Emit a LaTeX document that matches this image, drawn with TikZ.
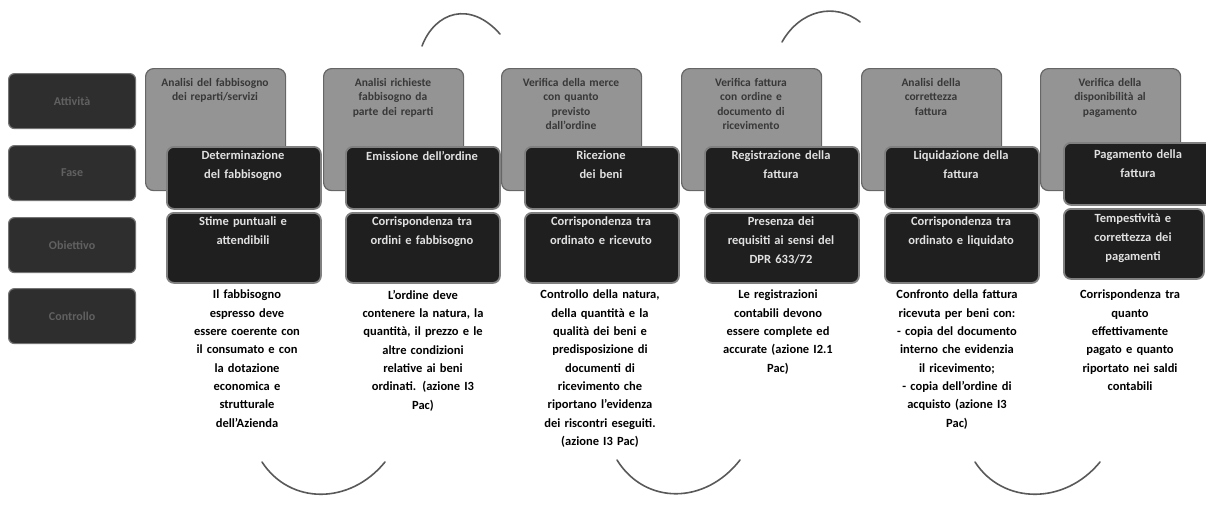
\documentclass[tikz,border=0pt]{standalone}
\usepackage{fontspec}
\setmainfont{Carlito}
\begin{document}
\begin{tikzpicture}[x=1pt,y=-1pt,
  actbox/.style={draw=black!60, fill=black!42, rounded corners=8pt, line width=1.2pt, minimum width=140pt, minimum height=122pt, anchor=north west, inner sep=0pt},
  fasebox/.style={draw=black!50, fill=black!88, rounded corners=7pt, line width=1.8pt, minimum width=154pt, minimum height=62pt, anchor=north west, inner sep=0pt},
  obbox/.style={draw=black!50, fill=black!88, rounded corners=7pt, line width=1.8pt, minimum width=154pt, minimum height=70pt, anchor=north west, inner sep=0pt},
  rowbox/.style={draw=black!55, fill=black!82, rounded corners=6pt, line width=1.2pt, minimum width=127pt, minimum height=55pt, anchor=north west, inner sep=0pt},
  rowtxt/.style={text=black!62, font=\bfseries\fontsize{12}{15}\selectfont, align=center},
  acttxt/.style={anchor=north, text=black!78, font=\bfseries\fontsize{11.5}{14.5}\selectfont, align=center, text width=124pt, inner sep=0pt},
  darktxt/.style={anchor=north, text=white!88!black, font=\bfseries\fontsize{12.5}{19}\selectfont, align=center, text width=150pt, inner sep=0pt},
  desctxt/.style={anchor=north, text=black, font=\bfseries\fontsize{12.5}{18.3}\selectfont, align=center, text width=160pt, inner sep=0pt},
  arcline/.style={draw=black!65, line width=1.6pt, line cap=round}]
\useasboundingbox (0,0) rectangle (1206,509);

% left row labels
\node[rowbox] (r1) at (8,73) {};
\node[rowtxt] at (r1.center) {Attività};
\node[rowbox] (r2) at (8,145) {};
\node[rowtxt] at (r2.center) {Fase};
\node[rowbox] (r3) at (8,217) {};
\node[rowtxt] at (r3.center) {Obiettivo};
\node[rowbox] (r4) at (8,288) {};
\node[rowtxt] at (r4.center) {Controllo};

% column 1
\node[actbox] (g1) at (145,68) {};
\node[acttxt] (ga1) at (215,78) {Analisi del fabbisogno dei reparti/servizi};
\node[fasebox] (f1) at (166,146) {};
\node[darktxt] (fa1) at (243,151) {Determinazione\\del fabbisogno};
\node[obbox] (o1) at (166,212) {};
\node[darktxt] (oa1) at (243,217) {Stime puntuali e\\attendibili};
\node[desctxt] (t1) at (247,290) {Il fabbisogno\\espresso deve\\essere coerente con\\il consumato e con\\la dotazione\\economica e\\strutturale\\dell'Azienda};

% column 2
\node[actbox] (g2) at (323,68) {};
\node[acttxt] (ga2) at (393,78) {Analisi richieste\\fabbisogno da\\parte dei reparti};
\node[fasebox] (f2) at (345,146) {};
\node[darktxt] (fa2) at (422,151) {Emissione dell'ordine};
\node[obbox] (o2) at (345,212) {};
\node[darktxt] (oa2) at (422,217) {Corrispondenza tra\\ordini e fabbisogno};
\node[desctxt] (t2) at (423,290) {L'ordine deve\\contenere la natura, la\\quantità, il prezzo e le\\altre condizioni\\relative ai beni\\ordinati. (azione I3\\Pac)};

% column 3
\node[actbox] (g3) at (501,68) {};
\node[acttxt] (ga3) at (571,78) {Verifica della merce\\con quanto\\previsto\\dall'ordine};
\node[fasebox] (f3) at (524,146) {};
\node[darktxt] (fa3) at (601,151) {Ricezione\\dei beni};
\node[obbox] (o3) at (524,212) {};
\node[darktxt] (oa3) at (601,217) {Corrispondenza tra\\ordinato e ricevuto};
\node[desctxt] (t3) at (600,290) {Controllo della natura,\\della quantità e la\\qualità dei beni e\\predisposizione di\\documenti di\\ricevimento che\\riportano l'evidenza\\dei riscontri eseguiti.\\(azione I3 Pac)};

% column 4
\node[actbox] (g4) at (681,68) {};
\node[acttxt] (ga4) at (751,78) {Verifica fattura\\con ordine e\\documento di ricevimento};
\node[fasebox] (f4) at (704,146) {};
\node[darktxt] (fa4) at (781,151) {Registrazione della\\fattura};
\node[obbox] (o4) at (704,212) {};
\node[darktxt] (oa4) at (781,217) {Presenza dei\\requisiti ai sensi del\\DPR 633/72};
\node[desctxt] (t4) at (778,290) {Le registrazioni\\contabili devono\\essere complete ed\\accurate (azione I2.1\\Pac)};

% column 5
\node[actbox] (g5) at (861,68) {};
\node[acttxt] (ga5) at (931,78) {Analisi della\\correttezza\\fattura};
\node[fasebox] (f5) at (884,146) {};
\node[darktxt] (fa5) at (961,151) {Liquidazione della\\fattura};
\node[obbox] (o5) at (884,212) {};
\node[darktxt] (oa5) at (961,217) {Corrispondenza tra\\ordinato e liquidato};
\node[desctxt] (t5) at (957,290) {Confronto della fattura\\ricevuta per beni con:\\- copia del documento\\interno che evidenzia\\il ricevimento;\\- copia dell'ordine di\\acquisto (azione I3\\Pac)};

% column 6
\node[actbox] (g6) at (1040,68) {};
\node[acttxt] (ga6) at (1110,78) {Verifica della\\disponibilità al\\pagamento};
\node[fasebox, minimum width=150pt] (f6) at (1063,142) {};
\node[darktxt] (fa6) at (1138,150) {Pagamento della\\fattura};
\node[obbox, minimum width=140pt] (o6) at (1063,208) {};
\node[darktxt] (oa6) at (1133,214) {Tempestività e\\correttezza dei\\pagamenti};
\node[desctxt] (t6) at (1130,290) {Corrispondenza tra\\quanto\\effettivamente\\pagato e quanto\\riportato nei saldi\\contabili};

% curved connectors
\coordinate (ta1) at (422,46);
\coordinate (tb1) at (500,34);
\draw[arcline] (ta1) .. controls (435,12) and (470,0) .. (tb1);
\coordinate (ta2) at (782,42);
\coordinate (tb2) at (860,22);
\draw[arcline] (ta2) .. controls (800,10) and (835,2) .. (tb2);
\coordinate (ba1) at (262,462);
\coordinate (bb1) at (385,462);
\draw[arcline] (ba1) .. controls (290,505) and (350,505) .. (bb1);
\coordinate (ba2) at (617,460);
\coordinate (bb2) at (740,460);
\draw[arcline] (ba2) .. controls (645,505) and (705,505) .. (bb2);
\coordinate (ba3) at (975,462);
\coordinate (bb3) at (1100,462);
\draw[arcline] (ba3) .. controls (1003,505) and (1065,505) .. (bb3);
\end{tikzpicture}
\end{document}
